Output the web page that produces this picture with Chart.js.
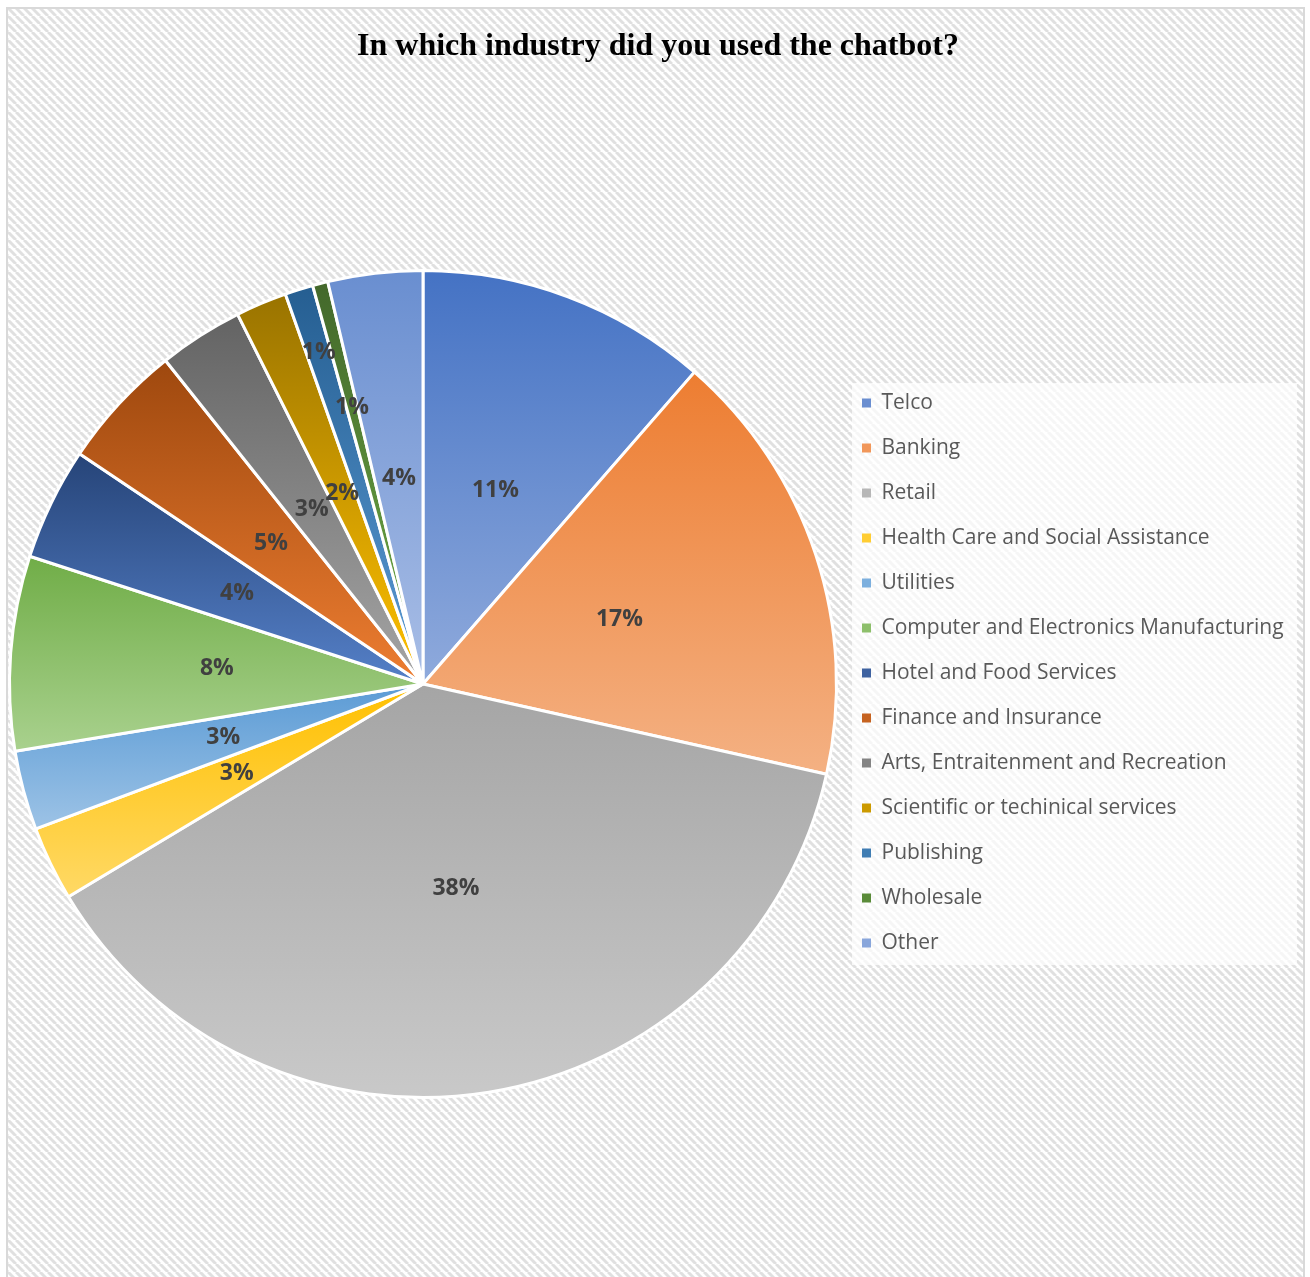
<!DOCTYPE html>
<html>
<head>
<meta charset="utf-8">
<title>Industry chatbot pie</title>
<script src="https://cdn.jsdelivr.net/npm/chart.js"></script>
<style>
  html, body { margin: 0; padding: 0; background: #fff; }
  canvas { display: block; }
</style>
</head>
<body>
<canvas id="industryChart" width="1310" height="1277"></canvas>
<script>
// Survey answers, share of respondents (%)
const industries = [
    'Telco', 'Banking', 'Retail', 'Health Care and Social Assistance', 'Utilities',
    'Computer and Electronics Manufacturing', 'Hotel and Food Services', 'Finance and Insurance',
    'Arts, Entraitenment and Recreation', 'Scientific or techinical services', 'Publishing',
    'Wholesale', 'Other'
];
const shares = [11.4, 17.1, 37.9, 2.9, 3.1, 7.6, 4.4, 4.9, 3.3, 2.0, 1.1, 0.6, 3.7];

// Office-style gradient: darker at the top of each slice, lighter at the bottom
const topColors = ['#4472C4', '#ED7D31', '#A5A5A5', '#FFC000', '#5B9BD5', '#70AD47',
    '#264478', '#9E480E', '#636363', '#997300', '#255E91', '#43682B', '#698ED0'];
const bottomColors = ['#8FAADC', '#F4B183', '#C9C9C9', '#FFD966', '#9DC3E6', '#A9D18E',
    '#5580C8', '#ED7D31', '#A5A5A5', '#FFC000', '#5B9BD5', '#70AD47', '#A9BEE6'];

// where each percentage sits, as a fraction of the radius
const labelDistance = [0.5, 0.5, 0.5, 0.5, 0.5, 0.5, 0.5, 0.5, 0.5, 0.5, 0.84, 0.69, 0.5];

const total = shares.reduce((a, b) => a + b, 0);

function mix(a, b) {
    const pa = parseInt(a.slice(1), 16), pb = parseInt(b.slice(1), 16);
    const ch = s => Math.round((((pa >> s) & 255) + ((pb >> s) & 255)) / 2);
    return `rgb(${ch(16)}, ${ch(8)}, ${ch(0)})`;
}

function sliceGradient(context) {
    const i = context.dataIndex;
    const area = context.chart.chartArea;
    if (!area) return topColors[i];
    const cy = (area.top + area.bottom) / 2;
    const r = Math.min(area.right - area.left, area.bottom - area.top) / 2;
    let a0 = -Math.PI / 2;
    for (let k = 0; k < i; k++) a0 += shares[k] / total * 2 * Math.PI;
    const a1 = a0 + shares[i] / total * 2 * Math.PI;
    const ys = [cy, cy + r * Math.sin(a0), cy + r * Math.sin(a1)];
    if (a0 < Math.PI / 2 && a1 > Math.PI / 2) ys.push(cy + r);
    const g = context.chart.ctx.createLinearGradient(0, Math.min(...ys), 0, Math.max(...ys));
    g.addColorStop(0, topColors[i]);
    g.addColorStop(1, bottomColors[i]);
    return g;
}

// legend sizing so the pie keeps the left part of the page
const legendFontSize = 21;
const legendPadding = 24;
const probe = document.createElement('canvas').getContext('2d');
probe.font = `${legendFontSize}px "Open Sans"`;
const longest = Math.max(...industries.map(t => probe.measureText(t).width));
const legendWidth = legendPadding + 9 + legendFontSize / 2 + longest + 10;
const padRight = Math.max(0, 1310 - 838 - legendWidth);

// hatched page background, border and the legend panel
const backdrop = {
    id: 'backdrop',
    afterLayout(chart) {
        const lg = chart.legend;
        lg.top = 356;
        lg.bottom = 990;
        lg.height = lg.bottom - lg.top;
        const tb = chart.titleBlock;
        if (tb) {
            tb.left = 8;
            tb.right = 1308;
            tb.width = 1300;
        }
    },
    beforeDraw(chart) {
        const ctx = chart.ctx;
        const tile = document.createElement('canvas');
        tile.width = tile.height = 8;
        const t = tile.getContext('2d');
        t.fillStyle = '#ffffff';
        t.fillRect(0, 0, 8, 8);
        t.strokeStyle = '#e0e0e0';
        t.lineWidth = 3;
        for (const k of [-8, 0, 8]) {
            t.beginPath();
            t.moveTo(k, 0);
            t.lineTo(k + 8, 8);
            t.stroke();
        }
        ctx.save();
        ctx.fillStyle = ctx.createPattern(tile, 'repeat');
        ctx.fillRect(8, 9, 1296, 1277);
        ctx.strokeStyle = '#d9d9d9';
        ctx.lineWidth = 2;
        ctx.beginPath();
        ctx.moveTo(7, 1277);
        ctx.lineTo(7, 8);
        ctx.lineTo(1304, 8);
        ctx.lineTo(1304, 1277);
        ctx.stroke();
        ctx.fillStyle = 'rgba(255, 255, 255, 0.7)';
        ctx.fillRect(852, 383, 445, 582);
        ctx.restore();
    }
};

// percentage labels inside the slices
const sliceLabels = {
    id: 'sliceLabels',
    afterDatasetsDraw(chart) {
        const ctx = chart.ctx;
        const arcs = chart.getDatasetMeta(0).data;
        ctx.save();
        ctx.font = 'bold 23px "Open Sans"';
        ctx.fillStyle = '#404040';
        ctx.textAlign = 'center';
        ctx.textBaseline = 'middle';
        arcs.forEach((arc, i) => {
            const mid = (arc.startAngle + arc.endAngle) / 2;
            const d = arc.outerRadius * labelDistance[i];
            const text = Math.round(shares[i] / total * 100) + '%';
            ctx.fillText(text, arc.x + Math.cos(mid) * d, arc.y + Math.sin(mid) * d);
        });
        ctx.restore();
    }
};

new Chart(document.getElementById('industryChart'), {
    type: 'pie',
    data: {
        labels: industries,
        datasets: [{
            data: shares,
            backgroundColor: sliceGradient,
            borderColor: '#ffffff',
            borderWidth: 3
        }]
    },
    options: {
        responsive: false,
        animation: false,
        layout: { padding: { left: 8, right: padRight, top: 0, bottom: 7 } },
        plugins: {
            title: {
                display: true,
                text: 'In which industry did you used the chatbot?',
                color: '#000000',
                font: { family: '"Liberation Serif", "Times New Roman", serif', size: 32, weight: 'bold' },
                padding: { top: 28, bottom: 31.6 }
            },
            legend: {
                position: 'right',
                labels: {
                    boxWidth: 9,
                    boxHeight: 9,
                    padding: legendPadding,
                    color: '#595959',
                    font: { family: '"Open Sans"', size: legendFontSize },
                    generateLabels(chart) {
                        const items = Chart.overrides.doughnut.plugins.legend.labels.generateLabels(chart);
                        items.forEach((item, i) => {
                            item.fillStyle = mix(topColors[i], bottomColors[i]);
                            item.strokeStyle = 'rgba(0,0,0,0)';
                            item.lineWidth = 0;
                        });
                        return items;
                    }
                }
            },
            tooltip: { enabled: false }
        }
    },
    plugins: [backdrop, sliceLabels]
});
</script>
</body>
</html>
